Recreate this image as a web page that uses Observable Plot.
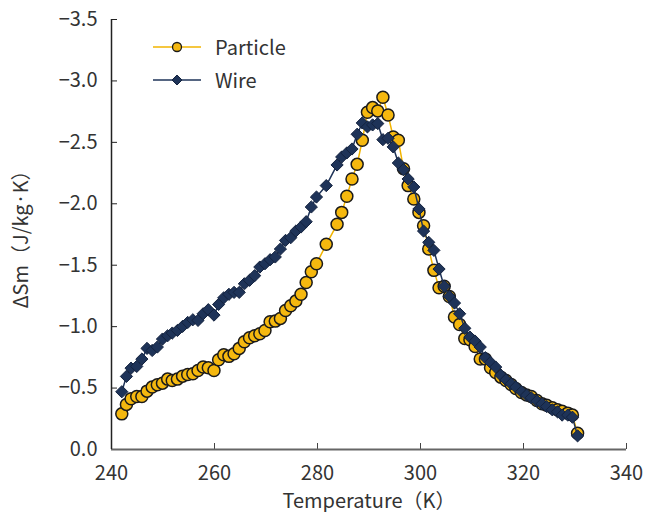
<!DOCTYPE html>
<html>
<head>
<meta charset="utf-8">
<script src="https://cdn.jsdelivr.net/npm/d3@7"></script>
<script src="https://cdn.jsdelivr.net/npm/@observablehq/plot@0.6"></script>
<style>
  body { margin: 0; background: #fff; }
  #wrap { position: relative; width: 662px; height: 512px; overflow: hidden; }
  #legend { position: absolute; left: 152px; top: 30px; font-family: 'Noto Sans CJK JP', sans-serif; font-size: 20px; color: #333; }
  #legend .row { display: flex; align-items: center; height: 33px; }
  #legend svg { margin-right: 13px; }
</style>
</head>
<body>
<div id="wrap"><div id="legend"></div></div>
<script>
const temps = [242.0,242.9,243.8,244.9,245.9,246.9,247.9,248.9,249.9,250.9,251.8,252.8,253.8,254.8,255.8,256.8,257.8,258.8,259.9,260.8,261.8,262.8,263.8,264.8,265.8,266.8,267.8,268.8,269.8,270.8,271.8,272.8,273.8,274.8,275.8,276.8,277.8,278.8,279.8,281.7,283.8,284.7,285.7,286.7,287.7,288.7,289.7,290.7,291.7,292.7,293.7,294.7,295.7,296.7,297.6,298.7,299.7,300.6,301.6,302.6,303.6,304.6,305.6,306.6,307.6,308.6,309.6,310.6,311.6,312.6,313.6,314.6,315.6,316.6,317.6,318.5,319.6,320.6,321.5,322.6,323.6,324.5,325.6,326.6,327.5,328.6,329.5,330.5];

const particle = [-0.290,-0.367,-0.413,-0.432,-0.432,-0.475,-0.508,-0.527,-0.540,-0.573,
  -0.562,-0.573,-0.597,-0.611,-0.616,-0.643,-0.671,-0.665,-0.643,-0.730,
  -0.771,-0.758,-0.779,-0.823,-0.877,-0.910,-0.926,-0.942,-0.969,-1.040,
  -1.045,-1.067,-1.132,-1.170,-1.208,-1.263,-1.360,-1.447,-1.512,
  -1.670,-1.833,
  -1.930,-2.061,-2.202,-2.321,-2.517,-2.745,-2.783,-2.756,-2.867,-2.723,
  -2.544,-2.517,-2.286,-2.148,-2.039,-1.930,-1.822,-1.632,-1.458,-1.317,
  -1.328,-1.246,-1.078,-1.018,-0.904,-0.893,-0.839,-0.736,-0.736,-0.665,
  -0.627,-0.589,-0.562,-0.529,-0.497,-0.464,-0.443,-0.432,-0.399,-0.372,
  -0.361,-0.339,-0.323,-0.312,-0.296,-0.280,-0.133];

const wire = [-0.470,-0.595,-0.662,-0.676,-0.736,-0.823,-0.806,-0.834,-0.899,-0.926,
  -0.948,-0.969,-1.002,-1.034,-1.056,-1.051,-1.105,-1.138,-1.094,-1.181,
  -1.235,-1.263,-1.279,-1.279,-1.349,-1.377,-1.415,-1.485,-1.512,-1.545,
  -1.567,-1.632,-1.702,-1.724,-1.778,-1.811,-1.854,-1.974,-2.055,
  -2.148,-2.316,
  -2.381,-2.414,-2.446,-2.566,-2.658,-2.626,-2.642,-2.653,-2.522,-2.533,
  -2.463,-2.332,-2.278,-2.202,-2.137,-1.958,-1.778,-1.686,-1.621,-1.469,
  -1.328,-1.246,-1.192,-1.105,-0.986,-0.915,-0.882,-0.834,-0.747,-0.709,
  -0.671,-0.605,-0.567,-0.535,-0.508,-0.470,-0.443,-0.421,-0.394,-0.372,
  -0.350,-0.323,-0.307,-0.280,-0.280,-0.263,-0.111];

const xTicks = [240, 260, 280, 300, 320, 340];
const yTicks = [0, -0.5, -1.0, -1.5, -2.0, -2.5, -3.0, -3.5];
const seriesNames = ["Particle", "Wire"];

const colParticle = "#F5B80F";
const colParticleLine = "#F2B400";
const colWire = "#1E3358";

const pData = temps.map((t, i) => ({t, v: particle[i]}));
const wData = temps.map((t, i) => ({t, v: wire[i]}));
const fmt = d3.format(".1f");

const chart = Plot.plot({
  width: 662,
  height: 512,
  marginLeft: 111,
  marginRight: 36,
  marginTop: 19,
  marginBottom: 63,
  style: {fontFamily: "'Noto Sans CJK JP', sans-serif", fontSize: "20px", color: "#333", background: "white"},
  x: {domain: [240, 340]},
  y: {domain: [0, -3.5]},
  marks: [
    Plot.axisX(xTicks, {tickSize: -6, tickPadding: 22, label: "Temperature（K）", labelArrow: "none", labelAnchor: "center", labelOffset: 58, stroke: "#444"}),
    Plot.axisY(yTicks, {tickSize: -6, tickPadding: 20, tickFormat: fmt, label: "ΔSm（J/kg·K）", labelArrow: "none", labelAnchor: "center", labelOffset: 98, stroke: "#222"}),
    Plot.ruleY([0], {stroke: "#666", strokeWidth: 2}),
    Plot.ruleX([240], {stroke: "#222", strokeWidth: 1.5}),
    Plot.line(pData, {x: "t", y: "v", stroke: colParticleLine, strokeWidth: 1.5}),
    Plot.dot(pData, {x: "t", y: "v", r: 6, fill: colParticle, stroke: "#1a1a1a", strokeWidth: 1.5}),
    Plot.line(wData, {x: "t", y: "v", stroke: colWire, strokeWidth: 1.5}),
    Plot.dot(wData, {x: "t", y: "v", r: 5.5, symbol: "diamond2", fill: colWire, stroke: "#14233f", strokeWidth: 1})
  ]
});
document.getElementById("wrap").prepend(chart);

// legend
const legend = document.getElementById("legend");
const swatch = (name) => {
  if (name === "Particle") {
    return `<svg width="50" height="20"><line x1="1" y1="10" x2="49" y2="10" stroke="${colParticleLine}" stroke-width="1.5"/><circle cx="25" cy="10" r="4.5" fill="${colParticle}" stroke="#1a1a1a" stroke-width="1.3"/></svg>`;
  }
  return `<svg width="50" height="20"><line x1="1" y1="10" x2="49" y2="10" stroke="${colWire}" stroke-width="1.5"/><path d="M25,5L30,10L25,15L20,10Z" fill="${colWire}" stroke="#14233f"/></svg>`;
};
legend.innerHTML = seriesNames.map(n => `<div class="row">${swatch(n)}<span>${n}</span></div>`).join("");
</script>
</body>
</html>
